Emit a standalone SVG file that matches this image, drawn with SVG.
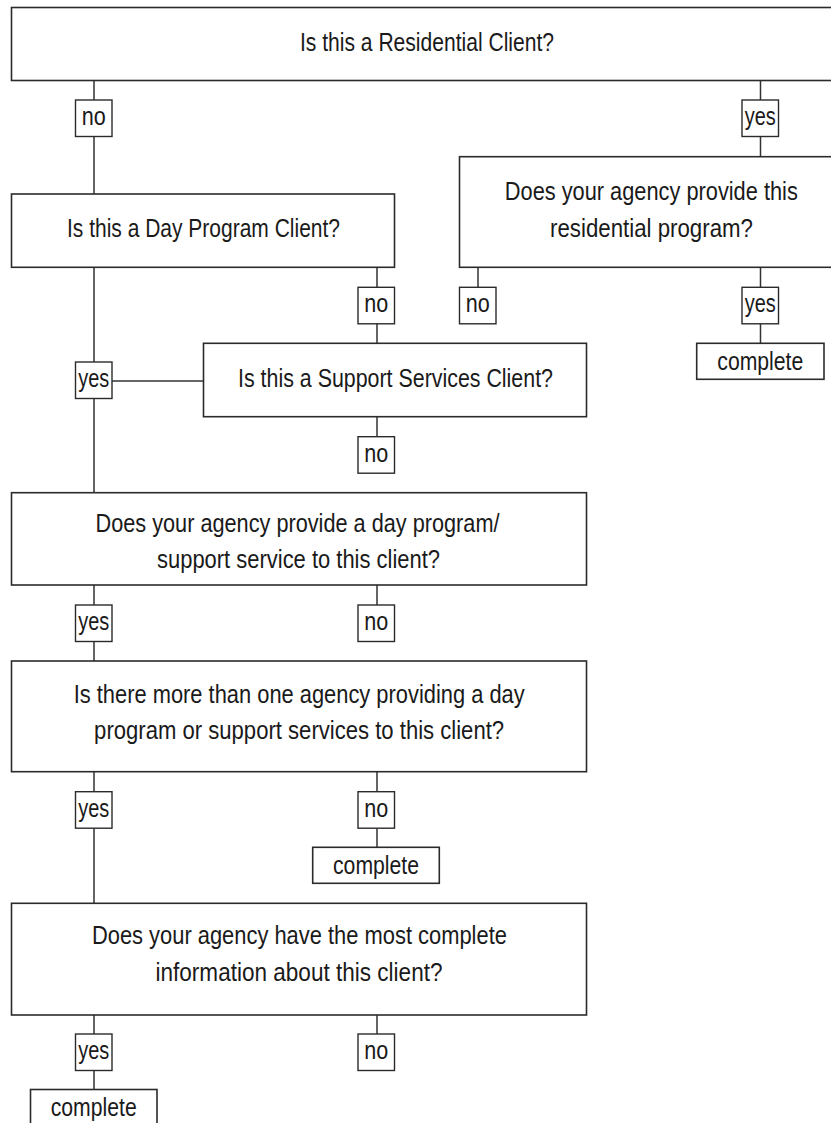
<svg xmlns="http://www.w3.org/2000/svg" width="831" height="1123" viewBox="0 0 831 1123">
<style>
.box{fill:#fff;stroke:#2b2b2b;stroke-width:1.6}
.lbl{fill:#fff;stroke:#2b2b2b;stroke-width:1.4}
.ln{fill:none;stroke:#333;stroke-width:1.5}
text{font-family:"Liberation Sans","DejaVu Sans Condensed",Arial,sans-serif;font-size:26.5px;fill:#1a1a1a;text-anchor:middle}
</style>
<rect x="0" y="0" width="831" height="1123" fill="#fff"/>
<g id="connectors">
<path class="ln" d="M94 80.5V100M94 136.5V194M94 267.3V362M94 398.5V492.7M94 585V605M94 641.5V661M94 771.7V791.7M94 828V903.3M94 1015V1034M94 1070.5V1089.5"/>
<path class="ln" d="M112 381H203.5"/>
<path class="ln" d="M377 267.3V287.3M377 323.8V343.3M377 416.7V436.7M377 585V605M377 771.7V791.7M377 828V847.3M377 1015V1034"/>
<path class="ln" d="M760.5 80.5V100M760.5 136.5V156.7M760.5 267.3V287.3M760.5 323.8V343.3"/>
<path class="ln" d="M478 267.3V287.3"/>
</g>
<g id="q-residential">
<rect class="box" x="11.5" y="7.5" width="830" height="73"/>
<text x="427" y="50.5" textLength="254" lengthAdjust="spacingAndGlyphs">Is this a Residential Client?</text>
</g>
<g id="q-dayprogram">
<rect class="box" x="11.5" y="194" width="383" height="73.3"/>
<text x="203.5" y="237.3" textLength="273" lengthAdjust="spacingAndGlyphs">Is this a Day Program Client?</text>
</g>
<g id="q-resprogram">
<rect class="box" x="459.5" y="156.7" width="390" height="110.6"/>
<text x="651.3" y="200" textLength="293" lengthAdjust="spacingAndGlyphs">Does your agency provide this</text>
<text x="651.5" y="236.7" textLength="203" lengthAdjust="spacingAndGlyphs">residential program?</text>
</g>
<g id="q-support">
<rect class="box" x="203.5" y="343.3" width="383" height="73.4"/>
<text x="395.5" y="386.7" textLength="315" lengthAdjust="spacingAndGlyphs">Is this a Support Services Client?</text>
</g>
<g id="q-provide-day">
<rect class="box" x="11.5" y="492.7" width="575" height="92.3"/>
<text x="297.5" y="531.7" textLength="404" lengthAdjust="spacingAndGlyphs">Does your agency provide a day program/</text>
<text x="298.5" y="568.3" textLength="283" lengthAdjust="spacingAndGlyphs">support service to this client?</text>
</g>
<g id="q-more-than-one">
<rect class="box" x="11.5" y="661" width="575" height="110.7"/>
<text x="299.2" y="702.7" textLength="451" lengthAdjust="spacingAndGlyphs">Is there more than one agency providing a day</text>
<text x="299.1" y="739.3" textLength="410" lengthAdjust="spacingAndGlyphs">program or support services to this client?</text>
</g>
<g id="q-most-complete">
<rect class="box" x="11.5" y="903.3" width="575" height="111.7"/>
<text x="299.4" y="944" textLength="415" lengthAdjust="spacingAndGlyphs">Does your agency have the most complete</text>
<text x="299" y="980.7" textLength="287" lengthAdjust="spacingAndGlyphs">information about this client?</text>
</g>
<g id="complete-1">
<rect class="box" x="696.7" y="343.3" width="127.3" height="36"/>
<text x="760.3" y="369.5" textLength="86" lengthAdjust="spacingAndGlyphs">complete</text>
</g>
<g id="complete-2">
<rect class="box" x="312.7" y="847.3" width="126.6" height="36"/>
<text x="376" y="873.5" textLength="86" lengthAdjust="spacingAndGlyphs">complete</text>
</g>
<g id="complete-3">
<rect class="box" x="30.5" y="1089.5" width="126.5" height="45"/>
<text x="93.7" y="1115.5" textLength="86" lengthAdjust="spacingAndGlyphs">complete</text>
</g>
<g id="labels">
<g id="l-no-1"><rect class="lbl" x="75.5" y="100" width="36.5" height="36.5"/><text x="93.7" y="125" textLength="24" lengthAdjust="spacingAndGlyphs">no</text></g>
<g id="l-yes-1"><rect class="lbl" x="742" y="100" width="36.5" height="36.5"/><text x="760.3" y="125" textLength="31" lengthAdjust="spacingAndGlyphs">yes</text></g>
<g id="l-no-2"><rect class="lbl" x="358" y="287.3" width="36.5" height="36.5"/><text x="376.3" y="312.3" textLength="24" lengthAdjust="spacingAndGlyphs">no</text></g>
<g id="l-no-3"><rect class="lbl" x="459.5" y="287.3" width="36.5" height="36.5"/><text x="477.8" y="312.3" textLength="24" lengthAdjust="spacingAndGlyphs">no</text></g>
<g id="l-yes-2"><rect class="lbl" x="742" y="287.3" width="36.5" height="36.5"/><text x="760.3" y="312.3" textLength="31" lengthAdjust="spacingAndGlyphs">yes</text></g>
<g id="l-yes-3"><rect class="lbl" x="75.5" y="362" width="36.5" height="36.5"/><text x="93.7" y="387" textLength="31" lengthAdjust="spacingAndGlyphs">yes</text></g>
<g id="l-no-4"><rect class="lbl" x="358" y="436.7" width="36.5" height="36.5"/><text x="376.3" y="461.7" textLength="24" lengthAdjust="spacingAndGlyphs">no</text></g>
<g id="l-yes-4"><rect class="lbl" x="75.5" y="605" width="36.5" height="36.5"/><text x="93.7" y="630" textLength="31" lengthAdjust="spacingAndGlyphs">yes</text></g>
<g id="l-no-5"><rect class="lbl" x="358" y="605" width="36.5" height="36.5"/><text x="376.3" y="630" textLength="24" lengthAdjust="spacingAndGlyphs">no</text></g>
<g id="l-yes-5"><rect class="lbl" x="75.5" y="791.7" width="36.5" height="36.5"/><text x="93.7" y="816.7" textLength="31" lengthAdjust="spacingAndGlyphs">yes</text></g>
<g id="l-no-6"><rect class="lbl" x="358" y="791.7" width="36.5" height="36.5"/><text x="376.3" y="816.7" textLength="24" lengthAdjust="spacingAndGlyphs">no</text></g>
<g id="l-yes-6"><rect class="lbl" x="75.5" y="1034" width="36.5" height="36.5"/><text x="93.7" y="1059" textLength="31" lengthAdjust="spacingAndGlyphs">yes</text></g>
<g id="l-no-7"><rect class="lbl" x="358" y="1034" width="36.5" height="36.5"/><text x="376.3" y="1059" textLength="24" lengthAdjust="spacingAndGlyphs">no</text></g>
</g>
</svg>
